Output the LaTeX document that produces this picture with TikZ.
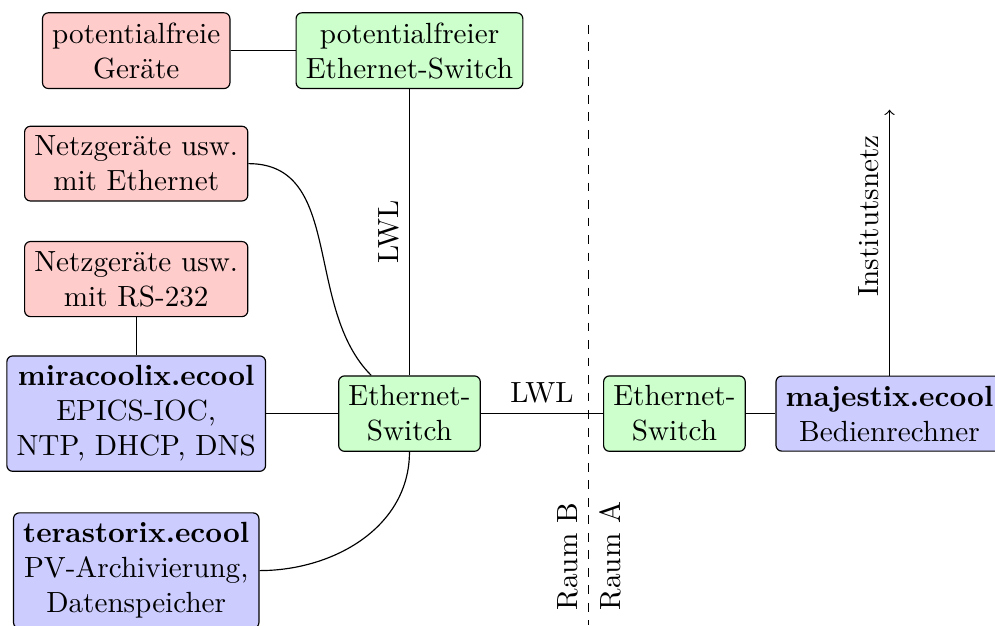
\documentclass[tikz,border=0pt]{standalone}
\tikzset{box/.style={draw,rounded corners=2pt,align=center},
  dev/.style={box,fill=red!20},
  swbox/.style={box,fill=green!20},
  host/.style={box,fill=blue!20},
  room/.style={rotate=90}}

\begin{document}
\begin{tikzpicture}
\useasboundingbox (0,0) rectangle (11.98,-7.53);
% Raum B
\node[dev] (geraete) at (1.64,-0.61) {potentialfreie\\Geräte};
\node[swbox] (pswitch) at (4.93,-0.61) {potentialfreier\\Ethernet-Switch};
\node[dev] (netzeth) at (1.64,-1.97) {Netzgeräte usw.\\mit Ethernet};
\node[dev] (netzrs) at (1.64,-3.36) {Netzgeräte usw.\\mit RS-232};
\node[host] (miracoolix) at (1.64,-4.98) {\textbf{miracoolix.ecool}\\EPICS-IOC,\\NTP, DHCP, DNS};
\node[host] (terastorix) at (1.64,-6.87) {\textbf{terastorix.ecool}\\PV-Archivierung,\\Datenspeicher};
\node[swbox] (switchB) at (4.93,-4.98) {Ethernet-\\Switch};
% Raum A
\node[swbox] (switchA) at (8.12,-4.98) {Ethernet-\\Switch};
\node[host] (majestix) at (10.71,-4.98) {\textbf{majestix.ecool}\\Bedienrechner};
\coordinate (inet) at (10.71,-1.32);

% Verbindungen
\draw (geraete) -- (pswitch);
\draw (switchB) -- node[midway,above,sloped] {LWL} (pswitch);
\draw (netzeth.east) to[out=0,in=135] (switchB);
\draw (netzrs) -- (miracoolix);
\draw (miracoolix) -- (switchB);
\draw (switchB.south) to[out=-90,in=0] (terastorix.east);
\draw (switchB) -- node[midway,above] {LWL} (switchA);
\draw (switchA) -- (majestix);
\draw[->] (majestix) -- node[pos=0.6,above,sloped] {Institutsnetz} (inet);

% Raumgrenze
\coordinate (wall top) at (7.09,-0.30);
\coordinate (wall bottom) at (7.09,-7.53);
\draw[dashed] (wall top) -- (wall bottom);
\node[room,anchor=south west] (raumB) at (7.09,-7.47) {Raum B};
\node[room,anchor=north west] (raumA) at (7.09,-7.47) {Raum A};
\end{tikzpicture}
\end{document}
